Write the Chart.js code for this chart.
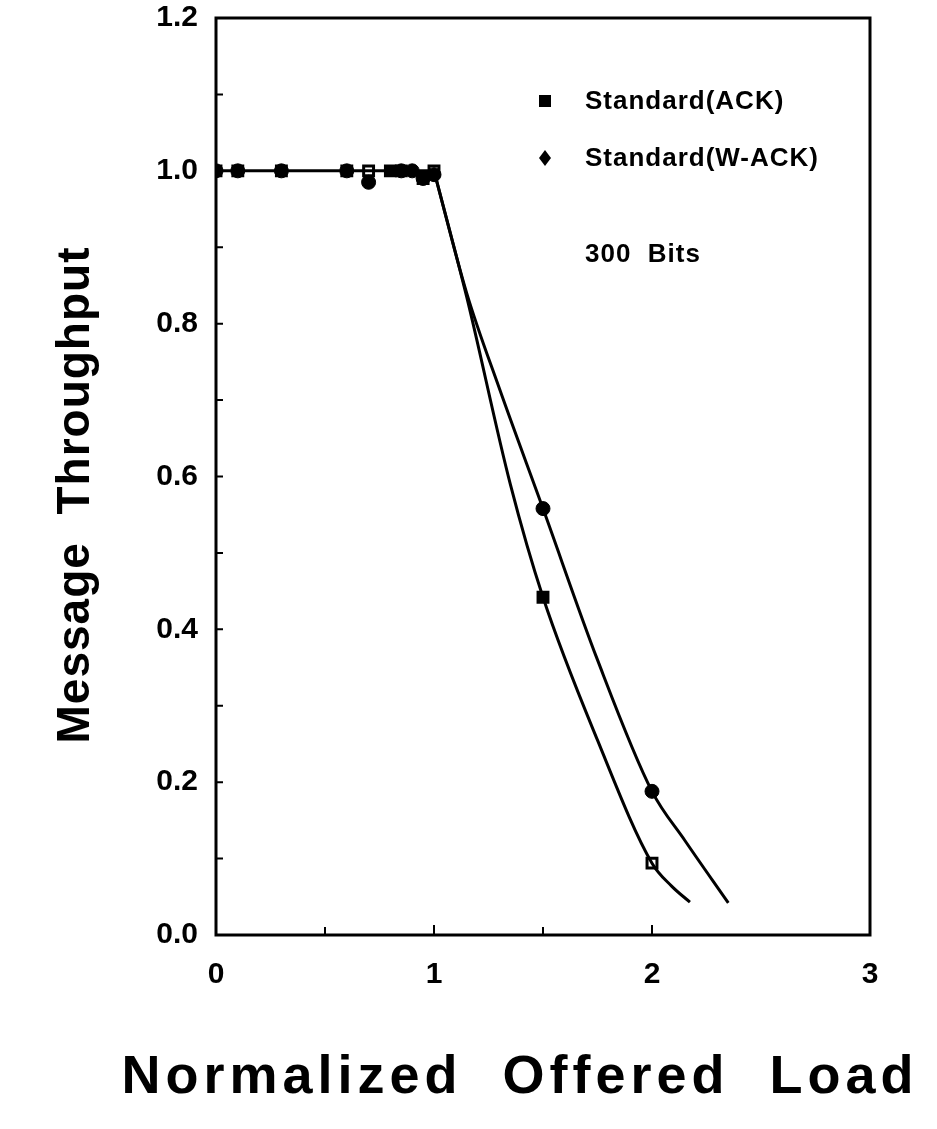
<html>
<head>
<script src="https://cdn.jsdelivr.net/npm/chart.js@4"></script>
<style>
  body { margin: 0; background: #fff; }
  #wrap { width: 937px; height: 1129px; }
</style>
</head>
<body>
<div id="wrap"><canvas id="chartCanvas" width="937" height="1129"></canvas></div>
<script>
// measured points (markers)
var ackX = [0, 0.1, 0.3, 0.6, 0.7, 0.8, 0.85, 0.95, 1.0, 1.5, 2.0];
var ackY = [1.0, 1.0, 1.0, 1.0, 1.0, 1.0, 1.0, 0.99, 1.0, 0.442, 0.094];
var wackX = [0, 0.1, 0.3, 0.6, 0.7, 0.85, 0.9, 0.95, 1.0, 1.5, 2.0];
var wackY = [1.0, 1.0, 1.0, 1.0, 0.985, 1.0, 1.0, 0.99, 0.995, 0.558, 0.188];

// fitted curves
var flatX = [0, 1.0];
var flatY = [1.0, 1.0];
var ackCurveX = [1.0, 1.15, 1.35, 1.5, 1.75, 2.0, 2.09, 2.174];
var ackCurveY = [1.0, 0.835, 0.59, 0.442, 0.255, 0.094, 0.064, 0.043];
var wackCurveX = [1.0, 1.15, 1.3, 1.5, 1.75, 2.0, 2.15, 2.35];
var wackCurveY = [1.0, 0.84, 0.715, 0.558, 0.36, 0.188, 0.124, 0.042];

var xTicks = [0, 1, 2, 3];
var yTicks = [0, 0.2, 0.4, 0.6, 0.8, 1.0, 1.2];
var seriesNames = ['Standard(ACK)', 'Standard(W-ACK)'];
var note = '300  Bits';
var xTitle = 'Normalized  Offered  Load';
var yTitle = 'Message  Throughput';

function pts(xs, ys) {
    var out = [];
    for (var i = 0; i < xs.length; i++) out.push({x: xs[i], y: ys[i]});
    return out;
}

var font = '"Liberation Sans", Arial, Helvetica, sans-serif';

// frame, inward ticks, legend and axis titles
var decor = {
    id: 'decor',
    afterDatasetsDraw: function(chart) {
        var ctx = chart.ctx;
        var a = chart.chartArea;
        var xs = chart.scales.x, ys = chart.scales.y;
        ctx.save();
        ctx.strokeStyle = '#000';
        ctx.lineWidth = 3;
        ctx.strokeRect(a.left, a.top, a.right - a.left, a.bottom - a.top);
        ctx.lineWidth = 2;
        ctx.beginPath();
        for (var v = 0.5; v < 2.5; v += 0.5) {
            var px = xs.getPixelForValue(v);
            var len = (v % 1 === 0) ? 10 : 8;
            ctx.moveTo(px, a.bottom);
            ctx.lineTo(px, a.bottom - len);
        }
        for (var k = 1; k < 12; k++) {
            var py = ys.getPixelForValue(k / 10);
            ctx.moveTo(a.left, py);
            ctx.lineTo(a.left + 7, py);
        }
        ctx.stroke();

        // legend
        var lx = 545, tx = 585;
        ctx.fillStyle = '#000';
        ctx.fillRect(lx - 6, 95, 12, 12);
        ctx.beginPath();
        ctx.moveTo(lx, 150); ctx.lineTo(lx + 6, 158); ctx.lineTo(lx, 166); ctx.lineTo(lx - 6, 158);
        ctx.closePath(); ctx.fill();
        ctx.font = 'bold 26px ' + font;
        ctx.letterSpacing = '1px';
        ctx.textBaseline = 'middle';
        ctx.textAlign = 'left';
        ctx.fillText(seriesNames[0], tx, 102);
        ctx.fillText(seriesNames[1], tx, 159);
        ctx.fillText(note, tx, 255);

        // axis titles
        ctx.font = 'bold 54px ' + font;
        ctx.letterSpacing = '5px';
        ctx.textAlign = 'center';
        ctx.fillText(xTitle, 520, 1078);
        ctx.save();
        ctx.translate(76, 495);
        ctx.rotate(-Math.PI / 2);
        ctx.font = 'bold 46px ' + font;
        ctx.letterSpacing = '1px';
        ctx.fillText(yTitle, 0, 0);
        ctx.restore();
        ctx.restore();
    }
};

var ctx = document.getElementById('chartCanvas').getContext('2d');
var chart = new Chart(ctx, {
    type: 'scatter',
    data: {
        datasets: [
            {
                label: 'flat',
                data: pts(flatX, flatY),
                showLine: true,
                borderColor: '#000',
                borderWidth: 3,
                pointRadius: 0
            },
            {
                label: seriesNames[0] + ' curve',
                data: pts(ackCurveX, ackCurveY),
                showLine: true,
                borderColor: '#000',
                borderWidth: 3,
                pointRadius: 0,
                cubicInterpolationMode: 'monotone'
            },
            {
                label: seriesNames[1] + ' curve',
                data: pts(wackCurveX, wackCurveY),
                showLine: true,
                borderColor: '#000',
                borderWidth: 3,
                pointRadius: 0,
                cubicInterpolationMode: 'monotone'
            },
            {
                label: seriesNames[1],
                data: pts(wackX, wackY),
                pointStyle: 'circle',
                pointRadius: 7,
                backgroundColor: '#000',
                borderColor: '#000'
            },
            {
                label: seriesNames[0],
                data: pts(ackX, ackY),
                pointStyle: 'rect',
                pointRadius: 7,
                backgroundColor: ['#000','#000','#000','#000','#fff','#000','#000','#000','#fff','#000','#fff'],
                borderColor: '#000',
                borderWidth: 3
            }
        ]
    },
    options: {
        responsive: false,
        animation: false,
        layout: { padding: { top: 18, right: 67, left: 0, bottom: 0 } },
        plugins: { legend: { display: false }, tooltip: { enabled: false } },
        scales: {
            x: {
                type: 'linear',
                min: 0, max: 3,
                afterBuildTicks: function(s) { s.ticks = xTicks.map(function(v) { return {value: v}; }); },
                afterFit: function(s) { s.height = 194; },
                grid: { display: false, drawTicks: false },
                border: { display: false },
                ticks: { color: '#000', padding: 22, font: { family: font, size: 30, weight: 'bold' } }
            },
            y: {
                type: 'linear',
                min: 0, max: 1.2,
                afterBuildTicks: function(s) { s.ticks = yTicks.map(function(v) { return {value: v}; }); },
                afterFit: function(s) { s.width = 216; s.paddingTop = 0; s.paddingBottom = 0; },
                grid: { display: false, drawTicks: false },
                border: { display: false },
                ticks: {
                    color: '#000', padding: 18,
                    font: { family: font, size: 30, weight: 'bold' },
                    callback: function(v) { return Number(v).toFixed(1); }
                }
            }
        }
    },
    plugins: [decor]
});
</script>
</body>
</html>
